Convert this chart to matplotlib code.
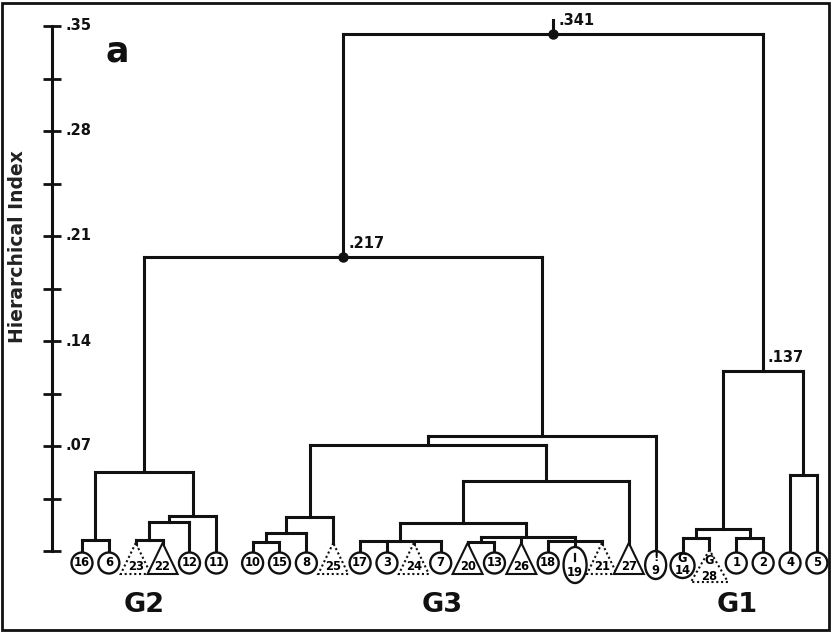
import matplotlib
matplotlib.use("Agg")
import matplotlib.pyplot as plt
import matplotlib.patches as mpatches
import matplotlib.transforms as mtrans

plt.rcParams['font.family'] = ['DejaVu Sans']
plt.rcParams['font.weight'] = 'bold'

# leaf order along the bottom, and the kind of mark each sample has
leaf_labels = ['16', '6', '23', '22', '12', '11',
               '10', '15', '8', '25', '17', '3', '24', '7', '20', '13',
               '26', '18', '19', '21', '27', '9',
               '14', '28', '1', '2', '4', '5']
leaf_kind = ['circle', 'circle', 'dtri', 'tri', 'circle', 'circle',
             'circle', 'circle', 'circle', 'dtri', 'circle', 'circle', 'dtri', 'circle', 'tri', 'circle',
             'tri', 'circle', 'bar_ellipse', 'dtri', 'tri', 'dot_ellipse',
             'g_circle', 'g_dtri', 'circle', 'circle', 'circle', 'circle']

# merges: name, children, hierarchical index (as drawn)
merge_names = ['a1', 'a2', 'a3', 'a4', 'G2',
               'b1', 'b2', 'b3', 'b4', 'b5', 'b6', 'b7', 'b8', 'b9', 'b10', 'G3',
               'c1', 'c2', 'c3', 'c4', 'G1', 'G23', 'root']
merge_children = [['16', '6'], ['23', '22'], ['a2', '12'], ['a3', '11'], ['a1', 'a4'],
                  ['10', '15'], ['b1', '8'], ['b2', '25'], ['17', '3', '24', '7'],
                  ['20', '13'], ['18', '19', '21'], ['b5', '26', 'b6'], ['b4', 'b7'],
                  ['b8', '27'], ['b3', 'b9'], ['b10', '9'],
                  ['14', '28'], ['1', '2'], ['c1', 'c2'], ['4', '5'], ['c3', 'c4'],
                  ['G2', 'G3'], ['G23', 'G1']]
merge_heights = [0.0073, 0.0073, 0.0195, 0.0235, 0.053,
                 0.0062, 0.0118, 0.0229, 0.0067, 0.0062, 0.0067, 0.0095, 0.0187,
                 0.0467, 0.0707, 0.0767,
                 0.0085, 0.0085, 0.0145, 0.0507, 0.120, 0.196, 0.345]

node_labels = {'root': '.341', 'G23': '.217', 'G1': '.137'}
group_names = ['G2', 'G3', 'G1']

y_major = [0, 0.07, 0.14, 0.21, 0.28, 0.35]
y_major_labels = ['', '.07', '.14', '.21', '.28', '.35']
y_minor = [0.035, 0.105, 0.175, 0.245, 0.315]

W, H = 831, 633
fig = plt.figure(figsize=(W / 100, H / 100), dpi=100)
# axes: spine at x=52px, y from 26px (.35) to 551px (0)
ax = fig.add_axes([52 / W, (H - 551) / H, (W - 52) / W, (551 - 26) / H])
ax.set_ylim(0, 0.35)
ax.set_xlim(-1.1165, 27.875)

ink = '#111111'
lw = 2.2

# x of each leaf: index, with a small gap after the first group
xpos = {}
for i, lab in enumerate(leaf_labels):
    xpos[lab] = i + (0.35 if i >= 6 else 0)
ypos = {lab: 0.0 for lab in leaf_labels}

for name, kids, h in zip(merge_names, merge_children, merge_heights):
    xs = [xpos[k] for k in kids]
    ax.plot([min(xs), max(xs)], [h, h], color=ink, lw=lw, solid_capstyle='projecting', clip_on=False)
    for k in kids:
        ax.plot([xpos[k], xpos[k]], [ypos[k], h], color=ink, lw=lw, clip_on=False)
    xpos[name] = sum(xs) / len(xs) if len(xs) > 2 else (xs[0] + xs[1]) / 2
    ypos[name] = h

# stub above the root
ax.plot([xpos['root'], xpos['root']], [ypos['root'], ypos['root'] + 0.009], color=ink, lw=lw, clip_on=False)
for n in ['root', 'G23']:
    ax.plot(xpos[n], ypos[n], 'o', color=ink, ms=6.5, clip_on=False, zorder=5)

offsets = {'root': (4, 4), 'G23': (4, 4), 'G1': (3, 4)}
for n, txt in node_labels.items():
    ax.annotate(txt, xy=(xpos[n], ypos[n]), xytext=offsets[n], textcoords='offset points',
                ha='left', va='bottom', fontsize=10.5, fontweight='bold', color=ink)

# leaf marks, sized in inches at each leaf position
for lab, kind in zip(leaf_labels, leaf_kind):
    tr = fig.dpi_scale_trans + mtrans.ScaledTranslation(xpos[lab], 0, ax.transData)
    fs = 8.3
    if kind == 'circle':
        ax.add_patch(mpatches.Circle((0, -0.12), 0.105, transform=tr, fc='white', ec=ink, lw=1.7,
                                     clip_on=False, zorder=4))
        ax.text(0, -0.12, lab, transform=tr, ha='center', va='center', fontsize=fs, zorder=6)
    elif kind in ('tri', 'dtri'):
        ls = '-' if kind == 'tri' else (0, (1, 1.3))
        ax.add_patch(mpatches.Polygon([(0, 0.08), (-0.15, -0.23), (0.15, -0.23)], closed=True,
                                      transform=tr, fc='white', ec=ink, lw=1.5, ls=ls,
                                      clip_on=False, zorder=4))
        ax.text(0, -0.16, lab, transform=tr, ha='center', va='center', fontsize=fs, zorder=6)
    elif kind == 'bar_ellipse':
        ax.add_patch(mpatches.Ellipse((0, -0.14), 0.23, 0.36, transform=tr, fc='white', ec=ink, lw=1.7,
                                      clip_on=False, zorder=4))
        ax.plot([0, 0], [-0.03, -0.10], transform=tr, color=ink, lw=1.6, clip_on=False, zorder=6)
        ax.text(0, -0.22, lab, transform=tr, ha='center', va='center', fontsize=fs, zorder=6)
    elif kind == 'dot_ellipse':
        ax.add_patch(mpatches.Ellipse((0, -0.14), 0.21, 0.28, transform=tr, fc='white', ec=ink, lw=1.7,
                                      clip_on=False, zorder=4))
        ax.text(0, -0.065, '!', transform=tr, ha='center', va='center', fontsize=fs, zorder=6)
        ax.text(0, -0.20, lab, transform=tr, ha='center', va='center', fontsize=fs, zorder=6)
    elif kind == 'g_circle':
        ax.add_patch(mpatches.Ellipse((0, -0.145), 0.24, 0.25, transform=tr, fc='white', ec=ink, lw=1.7,
                                      clip_on=False, zorder=4))
        ax.text(0, -0.075, 'G', transform=tr, ha='center', va='center', fontsize=fs, zorder=6)
        ax.text(0, -0.195, lab, transform=tr, ha='center', va='center', fontsize=fs, zorder=6)
    elif kind == 'g_dtri':
        ax.add_patch(mpatches.Polygon([(0, 0.01), (-0.185, -0.31), (0.185, -0.31)], closed=True,
                                      transform=tr, fc='white', ec=ink, lw=1.5, ls=(0, (1, 1.3)),
                                      clip_on=False, zorder=4))
        ax.text(0, -0.09, 'G', transform=tr, ha='center', va='center', fontsize=fs, zorder=6)
        ax.text(0, -0.255, lab, transform=tr, ha='center', va='center', fontsize=fs, zorder=6)

# group names under each cluster
grp_x = {'G2': xpos['G2'], 'G3': 13.4, 'G1': 24.4}
for g in group_names:
    tr = fig.dpi_scale_trans + mtrans.ScaledTranslation(grp_x[g], 0, ax.transData)
    ax.text(0, -0.54, g, transform=tr, ha='center', va='center', fontsize=19.5, fontweight='bold',
            color=ink, clip_on=False)

# y axis
for s in ['top', 'right', 'bottom']:
    ax.spines[s].set_visible(False)
ax.spines['left'].set_linewidth(2.2)
ax.spines['left'].set_color(ink)
ax.set_xticks([])
ax.set_yticks(y_major)
ax.set_yticks(y_minor, minor=True)
ax.tick_params(axis='y', which='both', direction='inout', length=13, width=2, color=ink, labelleft=False)
for v, t in zip(y_major, y_major_labels):
    ax.annotate(t, xy=(0, v), xycoords=('axes fraction', 'data'), xytext=(10, 0),
                textcoords='offset points', ha='left', va='center', fontsize=10.5,
                fontweight='bold', color=ink)
ax.patch.set_visible(False)

fig.text(18 / W, 1 - 247 / H, 'Hierarchical Index', rotation=90, ha='center', va='center',
         fontsize=13.5, fontweight='bold', color='#222222')
fig.text(117 / W, 1 - 51 / H, 'a', ha='center', va='center', fontsize=25, fontweight='bold', color=ink)
fig.patches.append(mpatches.Rectangle((0.003, 0.004), 0.994, 0.992, transform=fig.transFigure,
                                      fill=False, lw=2, ec=ink))

fig.savefig('out.png', dpi=100)
